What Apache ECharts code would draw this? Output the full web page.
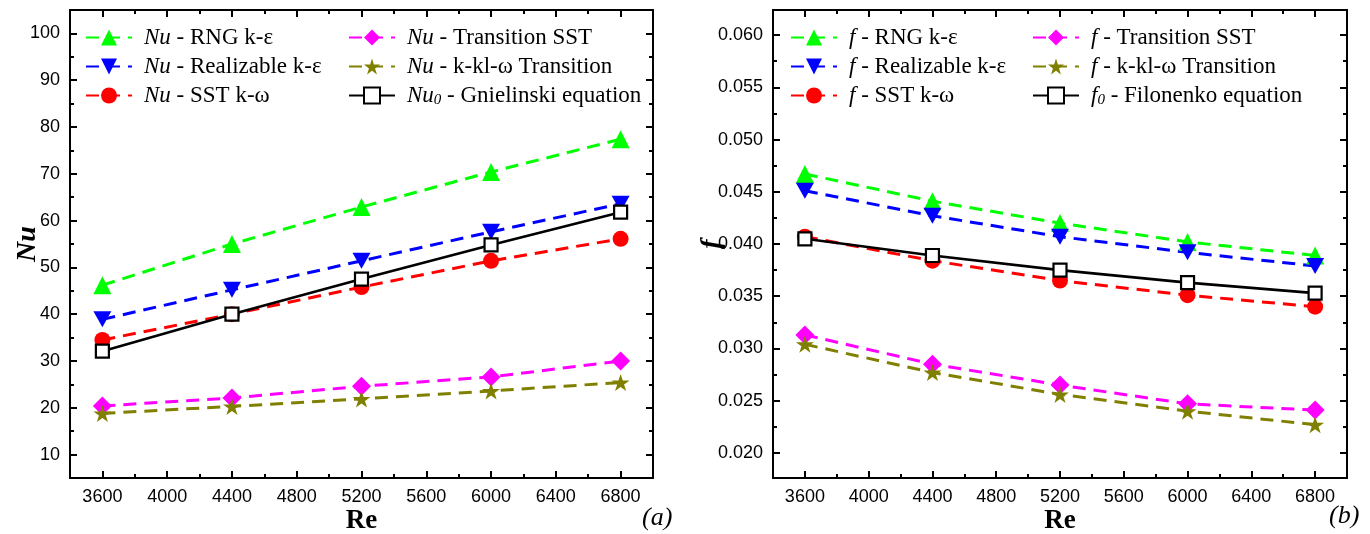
<!DOCTYPE html>
<html><head><meta charset="utf-8">
<script src="https://cdn.jsdelivr.net/npm/echarts@6/dist/echarts.min.js"></script>
<style>html,body{margin:0;padding:0;background:#fff}#c{width:1370px;height:534px}</style>
</head><body><div id="c"></div>
<script>
// ---------- data ----------
const reValues = [3600, 4400, 5200, 6000, 6800];
const reTicks = [3600, 4000, 4400, 4800, 5200, 5600, 6000, 6400, 6800];
const reMinorTicks = [3800, 4200, 4600, 5000, 5400, 5800, 6200, 6600];
const nuTicks = [10, 20, 30, 40, 50, 60, 70, 80, 90, 100];
const nuMinorTicks = [15, 25, 35, 45, 55, 65, 75, 85, 95];
const fTicks = [0.020, 0.025, 0.030, 0.035, 0.040, 0.045, 0.050, 0.055, 0.060];
const fMinorTicks = [0.0225, 0.0275, 0.0325, 0.0375, 0.0425, 0.0475, 0.0525, 0.0575];

const nuRNG        = [46.2, 55.0, 62.9, 70.4, 77.4];
const nuRealizable = [38.9, 45.2, 51.4, 57.6, 63.6];
const nuSST        = [34.5, 40.0, 45.8, 51.4, 56.1];
const nuTransSST   = [20.4, 22.1, 24.6, 26.6, 30.0];
const nuKklw       = [18.8, 20.3, 21.9, 23.6, 25.4];
const nuGnielinski = [32.1, 40.0, 47.5, 54.8, 61.8];

const fRNG        = [0.0467, 0.0441, 0.0420, 0.0402, 0.0389];
const fRealizable = [0.0451, 0.0427, 0.0407, 0.0392, 0.0379];
const fSST        = [0.0407, 0.0384, 0.0365, 0.0351, 0.0340];
const fTransSST   = [0.0313, 0.0285, 0.0265, 0.0247, 0.0241];
const fKklw       = [0.0304, 0.0277, 0.0256, 0.0240, 0.0227];
const fFilonenko  = [0.0405, 0.0389, 0.0375, 0.0363, 0.0353];

const nuNames = ['Nu - RNG k-ε', 'Nu - Realizable k-ε', 'Nu - SST k-ω', 'Nu - Transition SST', 'Nu - k-kl-ω Transition', 'Nu0 - Gnielinski equation'];
const fNames  = ['f - RNG k-ε', 'f - Realizable k-ε', 'f - SST k-ω', 'f - Transition SST', 'f - k-kl-ω Transition', 'f0 - Filonenko equation'];

// ---------- styling ----------
const SERIF = "'Liberation Serif','Times New Roman',serif";
const SANS = "'Liberation Sans',Arial,sans-serif";
const STAR = 'path://M100,0L122.45,69.1L195.1,69.1L136.3,111.8L158.8,180.9L100,138.2L41.2,180.9L63.7,111.8L4.9,69.1L77.55,69.1Z';
const TRI_DOWN = 'path://M0,0L100,0L50,87Z';
const styles = [
  {color: '#00FF00', symbol: 'triangle', size: 18, dash: true},
  {color: '#0000FF', symbol: TRI_DOWN, size: [18, 16], dash: true},
  {color: '#FF0000', symbol: 'circle', size: 16, dash: true},
  {color: '#FF00FF', symbol: 'diamond', size: 19, dash: true},
  {color: '#808000', symbol: STAR, size: [18, 17], dash: true},
  {color: '#000000', symbol: 'rect', size: 13, dash: false}
];

function legendFmt(name) {
  const idx = name.indexOf(' - ');
  const v = name.slice(0, idx), rest = name.slice(idx);
  let head = v.endsWith('0') ? '{i|' + v.slice(0, -1) + '}{s|0}' : '{i|' + v + '}';
  return '{g|}' + head + '{t|' + rest + '}';
}
const legendRich = {
  g: {width: 7},
  i: {fontFamily: SERIF, fontStyle: 'italic', fontSize: 23, color: '#000'},
  s: {fontFamily: SERIF, fontStyle: 'italic', fontSize: 15, color: '#000', padding: [10, 0, 0, 0]},
  t: {fontFamily: SERIF, fontSize: 23, color: '#000'}
};
function mkLegend(data, left, top) {
  return {
    data: data, left: left, top: top, orient: 'vertical', padding: 0,
    itemWidth: 46, itemHeight: 20, itemGap: 6, selectedMode: false,
    formatter: legendFmt,
    textStyle: {fontFamily: SERIF, fontSize: 23, color: '#000', rich: legendRich}
  };
}

function mkAxes(dim, gridIndex, min, max, majors, minors, labelFmt, nameOpt) {
  const mainPos = dim === 'x' ? 'bottom' : 'left';
  const mirPos = dim === 'x' ? 'top' : 'right';
  const lineStyle = {color: '#000', width: 2};
  const base = {type: 'value', gridIndex: gridIndex, min: min, max: max, splitLine: {show: false}, scale: true};
  const main = Object.assign({}, base, {
    position: mainPos,
    axisLine: {show: true, onZero: false, lineStyle: lineStyle},
    axisTick: {show: true, inside: true, length: 7, customValues: majors, lineStyle: {color: '#000', width: 2}},
    axisLabel: {show: true, customValues: majors, formatter: labelFmt, color: '#000', fontFamily: SANS,
      fontSize: 18, margin: 10},
    nameMoveOverlap: false
  }, nameOpt);
  const minor = Object.assign({}, base, {
    position: mainPos,
    axisLine: {show: false},
    axisTick: {show: true, inside: true, length: 4, customValues: minors, lineStyle: {color: '#000', width: 2}},
    axisLabel: {show: false}
  });
  const mir = Object.assign({}, base, {
    position: mirPos,
    axisLine: {show: true, onZero: false, lineStyle: lineStyle},
    axisTick: {show: true, inside: true, length: 7, customValues: majors, lineStyle: {color: '#000', width: 2}},
    axisLabel: {show: false}
  });
  const mirMinor = Object.assign({}, base, {
    position: mirPos,
    axisLine: {show: false},
    axisTick: {show: true, inside: true, length: 4, customValues: minors, lineStyle: {color: '#000', width: 2}},
    axisLabel: {show: false}
  });
  return [main, minor, mir, mirMinor];
}

function mkSeries(name, vals, st, axisIdx) {
  return {
    type: 'line', name: name, xAxisIndex: axisIdx, yAxisIndex: axisIdx,
    data: reValues.map((r, k) => [r, vals[k]]),
    symbol: st.symbol, symbolSize: st.size, showSymbol: true,
    lineStyle: {color: st.color, width: st.dash ? 3 : 2.6, type: st.dash ? [13, 8] : 'solid'},
    itemStyle: st.dash ? {color: st.color} : {color: '#fff', borderColor: '#000', borderWidth: 2.2},
    emphasis: {disabled: true}, animation: false, z: st.dash ? 2 : 3
  };
}

const nuData = [nuRNG, nuRealizable, nuSST, nuTransSST, nuKklw, nuGnielinski];
const fData = [fRNG, fRealizable, fSST, fTransSST, fKklw, fFilonenko];

const nameStyleX = {name: 'Re', nameLocation: 'middle', nameGap: 30,
  nameTextStyle: {fontFamily: SERIF, fontWeight: 'bold', fontSize: 27, color: '#000'}};

const xAxes = [].concat(
  mkAxes('x', 0, 3400, 7000, reTicks, reMinorTicks, v => String(v), nameStyleX),
  mkAxes('x', 1, 3400, 7000, reTicks, reMinorTicks, v => String(v), nameStyleX)
);
const yAxes = [].concat(
  mkAxes('y', 0, 5, 105, nuTicks, nuMinorTicks, v => String(v),
    {name: 'Nu', nameLocation: 'middle', nameGap: 28,
     nameTextStyle: {fontFamily: SERIF, fontWeight: 'bold', fontStyle: 'italic', fontSize: 28, color: '#000'}}),
  mkAxes('y', 1, 0.0176, 0.0624, fTicks, fMinorTicks, v => v.toFixed(3),
    {name: 'f', nameLocation: 'middle', nameGap: 47,
     nameTextStyle: {fontFamily: SERIF, fontWeight: 'bold', fontStyle: 'italic', fontSize: 28, color: '#000'}})
);

const series = [];
nuNames.forEach((n, k) => series.push(mkSeries(n, nuData[k], styles[k], 0)));
fNames.forEach((n, k) => series.push(mkSeries(n, fData[k], styles[k], 4)));

const option = {
  backgroundColor: '#fff',
  animation: false,
  grid: [
    {left: 70, top: 10, width: 583, height: 468, outerBoundsMode: 'none', containLabel: false},
    {left: 773, top: 10, width: 574, height: 468, outerBoundsMode: 'none', containLabel: false}
  ],
  xAxis: xAxes,
  yAxis: yAxes,
  legend: [
    mkLegend(nuNames.slice(0, 3), 85, 26),
    mkLegend(nuNames.slice(3), 348, 26),
    mkLegend(fNames.slice(0, 3), 790, 26),
    mkLegend(fNames.slice(3), 1032, 26)
  ],
  graphic: [
    {type: 'text', left: 642, top: 505, style: {text: '(a)', font: 'italic 26px ' + SERIF, fill: '#000'}},
    {type: 'text', left: 1329, top: 503, style: {text: '(b)', font: 'italic 26px ' + SERIF, fill: '#000'}}
  ],
  series: series
};
const chart = echarts.init(document.getElementById('c'), null, {renderer: 'canvas'});
chart.setOption(option);
</script></body></html>
